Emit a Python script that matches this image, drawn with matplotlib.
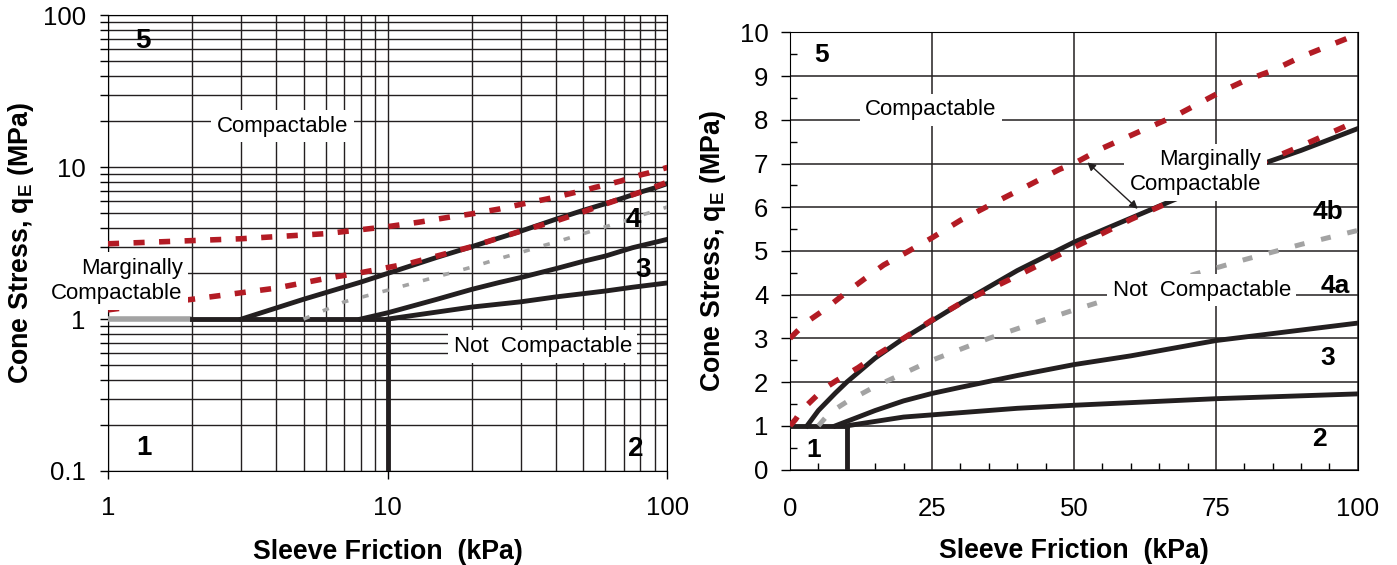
import numpy as np
import matplotlib
matplotlib.use("Agg")
from matplotlib import pyplot as plt
from matplotlib.ticker import FuncFormatter, NullFormatter, MultipleLocator

plt.rcParams['font.family'] = ['Liberation Sans', 'DejaVu Sans']
plt.rcParams['mathtext.fontset'] = 'custom'
plt.rcParams['mathtext.rm'] = 'Liberation Sans'
plt.rcParams['mathtext.bf'] = 'Liberation Sans:bold'

# boundary curves, sleeve friction (kPa) vs cone stress (MPa)
upper_red_x = [0, 1, 3, 6, 10, 13, 16.5, 20, 25, 30, 37, 42, 47.5, 50, 55, 61, 68, 76, 80, 85, 90, 100]
upper_red_y = [3.0, 3.13, 3.38, 3.65, 4.06, 4.35, 4.68, 4.93, 5.3, 5.7, 6.17, 6.5, 6.87, 7.0, 7.35, 7.7, 8.1, 8.65, 8.89, 9.13, 9.44, 9.96]

lower_red_x = [0, 1, 2, 4, 6, 8, 12, 15, 20, 25, 30, 40, 50, 60, 70, 80, 90, 100]
lower_red_y = [1.0, 1.15, 1.35, 1.6, 1.85, 2.02, 2.33, 2.6, 3.0, 3.42, 3.8, 4.43, 5.08, 5.72, 6.3, 6.85, 7.4, 7.98]

line4b_x = [3, 5, 8, 10, 15, 20, 30, 40, 50, 60, 70, 80, 90, 100]
line4b_y = [1.0, 1.35, 1.75, 2.0, 2.55, 3.0, 3.8, 4.55, 5.2, 5.75, 6.3, 6.85, 7.3, 7.8]

gray_x = [5, 7, 10, 15, 20, 25, 30, 35, 40, 50, 60, 70, 80, 90, 100]
gray_y = [1.0, 1.3, 1.55, 1.9, 2.2, 2.5, 2.75, 3.0, 3.22, 3.65, 4.05, 4.42, 4.8, 5.15, 5.47]

line3_x = [8, 10, 15, 20, 25, 30, 40, 50, 60, 75, 100]
line3_y = [1.0, 1.1, 1.35, 1.57, 1.74, 1.88, 2.15, 2.4, 2.6, 2.95, 3.35]

line2_x = [10, 20, 30, 40, 50, 60, 75, 100]
line2_y = [1.0, 1.2, 1.3, 1.4, 1.47, 1.53, 1.62, 1.73]

floor_x_lin = [0, 10]
floor_x_log = [2, 10]
floor_y = [1, 1]
gray_seg_x = [1, 2]
gray_seg_y = [1, 1]
cut_x = [10, 10]
cut_y_lin = [0, 1]
cut_y_log = [0.1, 1]

red = '#b31b24'
gray = '#a3a3a3'
black = '#231f20'

fig = plt.figure(figsize=(13.97, 5.65), dpi=100)
ax = fig.add_axes([0.0773, 0.1664, 0.4005, 0.8066])
ax2 = fig.add_axes([0.5655, 0.169, 0.4065, 0.7737])


def logpart(xs, ys):
    xs = np.array(xs, float)
    ys = np.array(ys, float)
    m = xs >= 1
    return xs[m], ys[m]


# ---- left: log-log ----
ax.set_xscale('log')
ax.set_yscale('log')
ax.set_xlim(1, 100)
ax.set_ylim(0.1, 100)
ax.grid(True, which='both', color=black, lw=1.0, zorder=0)
ax.set_axisbelow(True)

ax.plot(gray_seg_x, gray_seg_y, color=gray, lw=4, solid_capstyle='butt', zorder=3)
ax.plot(floor_x_log, floor_y, color=black, lw=3.5, zorder=3)
ax.plot(cut_x, cut_y_log, color=black, lw=3.5, zorder=3)
ax.plot(line4b_x, line4b_y, color=black, lw=3.5, zorder=3)
ax.plot(line3_x, line3_y, color=black, lw=3.5, zorder=3)
ax.plot(line2_x, line2_y, color=black, lw=3.5, zorder=3)
ax.plot(gray_x, gray_y, color=gray, lw=2.6, dashes=(1.8, 4.0), zorder=4)
x, y = logpart(upper_red_x, upper_red_y)
ax.plot(x, y, color=red, lw=4, dashes=(2.0, 2.6), zorder=5)
x, y = logpart(lower_red_x, lower_red_y)
ax.plot(x, y, color=red, lw=4, dashes=(2.0, 2.6), zorder=5)

fmt = FuncFormatter(lambda v, p: '%g' % v)
ax.xaxis.set_major_formatter(fmt)
ax.yaxis.set_major_formatter(fmt)
ax.xaxis.set_minor_formatter(NullFormatter())
ax.yaxis.set_minor_formatter(NullFormatter())
ax.tick_params(which='major', direction='out', length=6, width=1, labelsize=18.5)
ax.tick_params(axis='x', which='major', pad=12)
ax.tick_params(axis='y', which='major', pad=10)
ax.tick_params(axis='x', which='minor', length=0)
ax.tick_params(axis='y', which='minor', direction='out', length=6, width=1)

box = dict(facecolor='white', edgecolor='none', pad=4)
ax.text(1.33, 68, '5', fontsize=20, fontweight='bold', ha='center', va='center', zorder=6)
ax.text(4.2, 18.6, 'Compactable', fontsize=16, ha='center', va='center', bbox=box, zorder=6)
ax.text(1.85, 1.78, 'Marginally\nCompactable', fontsize=16, ha='right', va='center',
        multialignment='right', linespacing=1.25, bbox=box, zorder=6)
ax.text(75.6, 4.5, '4', fontsize=20, fontweight='bold', ha='center', va='center', zorder=6)
ax.text(82, 2.09, '3', fontsize=20, fontweight='bold', ha='center', va='center', zorder=6)
ax.text(35.8, 0.66, 'Not  Compactable', fontsize=16, ha='center', va='center', bbox=box, zorder=6)
ax.text(1.34, 0.141, '1', fontsize=20, fontweight='bold', ha='center', va='center', zorder=6)
ax.text(76.7, 0.14, '2', fontsize=20, fontweight='bold', ha='center', va='center', zorder=6)

ax.set_xlabel('Sleeve Friction  (kPa)', fontsize=19.3, fontweight='bold')
ax.set_ylabel(r'Cone Stress, q$_{\mathbf{E}}$ (MPa)', fontsize=19.3, fontweight='bold')
ax.xaxis.set_label_coords(0.5, -0.149)
ax.yaxis.set_label_coords(-0.128, 0.5)

# ---- right: linear ----
ax2.set_xlim(0, 100)
ax2.set_ylim(0, 10)
ax2.set_xticks([0, 25, 50, 75, 100])
ax2.set_yticks(range(0, 11))
ax2.xaxis.set_minor_locator(MultipleLocator(5))
ax2.yaxis.set_minor_locator(MultipleLocator(0.5))
ax2.grid(True, which='major', color=black, lw=1.1, zorder=0)
ax2.set_axisbelow(True)
ax2.tick_params(which='major', direction='out', length=6.5, width=1, labelsize=18.5)
ax2.tick_params(axis='x', which='major', length=0, pad=20)
ax2.tick_params(axis='y', which='major', pad=9)
ax2.tick_params(which='minor', direction='in', length=5, width=1)

ax2.plot(floor_x_lin, floor_y, color=black, lw=3.5, zorder=3)
ax2.plot(cut_x, cut_y_lin, color=black, lw=3.5, zorder=3)
ax2.plot(line4b_x, line4b_y, color=black, lw=3.5, zorder=3)
ax2.plot(line3_x, line3_y, color=black, lw=3.5, zorder=3)
ax2.plot(line2_x, line2_y, color=black, lw=3.5, zorder=3)
ax2.plot(gray_x, gray_y, color=gray, lw=3.6, dashes=(2.0, 3.4), zorder=4)
ax2.plot(upper_red_x, upper_red_y, color=red, lw=4, dashes=(2.1, 3.0), zorder=5)
ax2.plot(lower_red_x, lower_red_y, color=red, lw=4, dashes=(2.1, 3.0), zorder=5)

ax2.text(5.6, 9.49, '5', fontsize=19, fontweight='bold', ha='center', va='center', zorder=6)
ax2.text(24.8, 8.23, 'Compactable', fontsize=16, ha='center', va='center', bbox=box, zorder=6)
ax2.text(83, 6.8, 'Marginally\nCompactable', fontsize=16, ha='right', va='center',
         multialignment='right', linespacing=1.25, bbox=box, zorder=6)
ax2.text(94.7, 5.88, '4b', fontsize=19, fontweight='bold', ha='center', va='center', zorder=6)
ax2.text(72.5, 4.1, 'Not  Compactable', fontsize=16, ha='center', va='center', bbox=box, zorder=6)
ax2.text(96, 4.2, '4a', fontsize=19, fontweight='bold', ha='center', va='center', zorder=6)
ax2.text(94.7, 2.54, '3', fontsize=19, fontweight='bold', ha='center', va='center', zorder=6)
ax2.text(93.3, 0.7, '2', fontsize=19, fontweight='bold', ha='center', va='center', zorder=6)
ax2.text(4.2, 0.44, '1', fontsize=19, fontweight='bold', ha='center', va='center', zorder=6)
ax2.annotate('', xy=(52, 7.07), xytext=(61.6, 5.92),
             arrowprops=dict(arrowstyle='<|-|>', color=black, lw=1, mutation_scale=12), zorder=7)

ax2.set_xlabel('Sleeve Friction  (kPa)', fontsize=19.3, fontweight='bold')
ax2.set_ylabel(r'Cone Stress, q$_{\mathbf{E}}$ (MPa)', fontsize=19.3, fontweight='bold')
ax2.xaxis.set_label_coords(0.5, -0.157)
ax2.yaxis.set_label_coords(-0.11, 0.5)

fig.savefig('out.png', dpi=100)
